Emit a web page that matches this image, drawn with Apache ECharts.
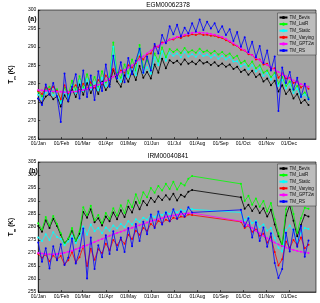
<!DOCTYPE html>
<html><head><meta charset="utf-8">
<script src="https://cdn.jsdelivr.net/npm/echarts@6/dist/echarts.min.js"></script>
<style>html,body{margin:0;padding:0;background:#fff}#c{width:320px;height:303px}</style>
</head><body><div id="c"></div>
<script>
const MONTH_TICKS = [0,31,59,90,120,151,181,212,243,273,304,334];
const MONTH_LABELS = ['01/Jan','01/Feb','01/Mar','01/Apr','01/May','01/Jun','01/Jul','01/Aug','01/Sep','01/Oct','01/Nov','01/Dec'];
const SERIES_NAMES = ['TM_Bevis','TM_LatR','TM_Static','TM_Varying','TM_GPT2w','TM_RS'];
const COLORS = ['#000000','#00ff00','#00ffff','#ff0000','#ff00ff','#0000ff'];
const TITLE_A = 'EGM00062378';
const TITLE_B = 'IRM00040841';
const Y_TICKS_A = [265,300,5];
const Y_TICKS_B = [255,305,5];

const DAYS_A = [0,5,10,15,20,25,30,35,40,45,50,55,60,65,70,75,80,85,90,95,100,105,110,115,120,125,130,135,140,145,150,155,160,165,170,175,180,185,190,195,200,205,210,215,220,225,230,235,240,245,250,255,260,265,270,275,280,285,290,295,300,305,310,315,320,325,330,335,340,345,350,355,360];
const A_BEVIS = [276.0,274.8,276.5,277.2,275.8,276.6,273.8,276.9,275.2,278.6,
 276.4,279.8,277.0,280.2,277.5,279.4,277.2,280.6,278.3,279.8,
 283.8,280.6,279.2,282.3,280.5,283.4,281.0,284.8,281.6,283.2,
 281.4,285.2,283.0,286.8,284.2,286.4,285.6,286.2,285.2,286.6,
 285.4,286.0,285.3,286.4,285.5,285.9,285.1,285.8,284.8,285.5,
 284.6,285.2,284.0,284.6,283.2,283.8,282.4,283.5,281.8,282.6,
 280.6,281.4,279.6,280.8,277.9,279.6,277.2,278.4,276.0,277.2,
 274.8,275.6,274.2];
const A_LATR = [277.8,276.6,278.4,279.2,277.6,278.5,275.4,278.9,277.0,280.8,
 278.3,282.0,279.0,282.6,279.6,281.8,279.2,283.4,280.4,281.8,
 291.2,283.0,281.6,285.2,282.8,286.6,283.6,290.5,284.4,286.4,
 284.2,288.2,286.0,289.8,287.2,289.4,288.6,289.3,288.3,289.7,
 288.5,289.1,288.4,289.5,288.6,289.0,288.2,288.9,287.9,288.6,
 287.6,288.2,287.0,287.6,285.6,286.2,284.8,286.0,284.2,285.0,
 283.0,283.6,281.8,283.0,280.0,281.8,279.4,280.6,278.2,279.4,
 276.8,277.6,276.2];
const A_STATIC = [277.0,275.8,277.5,278.2,276.8,277.6,274.8,277.9,276.2,279.6,
 277.4,280.8,278.0,281.2,278.5,280.4,278.2,281.6,279.3,281.1,
 290.0,281.9,280.5,283.6,281.8,284.7,282.3,289.5,282.9,284.5,
 282.7,287.2,285.0,288.8,286.2,288.4,287.6,288.2,287.2,288.6,
 287.4,288.0,287.3,288.4,287.5,287.9,287.1,287.8,286.8,287.5,
 286.6,287.2,286.0,286.1,284.7,285.3,283.9,285.0,283.3,284.1,
 282.1,282.9,281.1,282.3,279.4,281.1,278.7,279.9,277.5,278.7,
 276.3,277.1,275.7];
const A_VARYING = [278.0,277.2,279.0,278.4,279.2,278.0,275.8,279.6,277.4,278.8,
 279.6,278.2,280.0,278.6,280.4,279.0,281.0,279.8,282.2,281.0,
 284.0,282.2,283.6,283.0,285.0,284.4,285.6,287.4,286.6,288.0,
 288.2,290.2,290.0,291.2,291.2,292.0,292.0,292.6,292.4,293.0,
 293.0,293.4,293.2,293.6,293.2,293.3,293.0,293.0,292.6,292.4,
 291.8,291.4,290.6,290.2,289.2,289.0,288.0,287.8,286.6,286.6,
 285.2,285.4,284.0,284.2,281.6,282.8,281.4,281.6,280.2,280.6,
 279.0,279.6,278.6];
const A_GPT2W = [278.3,278.2,278.1,278.0,277.9,277.8,277.8,277.7,277.7,277.8,
 277.9,278.1,278.3,278.6,278.9,279.3,279.7,280.2,280.8,281.3,
 281.9,282.5,283.1,283.7,284.3,285.0,285.8,286.6,287.4,288.2,
 289.0,289.7,290.3,290.9,291.4,291.9,292.3,292.7,293.0,293.3,
 293.6,293.8,293.9,293.9,293.8,293.7,293.5,293.3,293.0,292.7,
 292.2,291.6,291.0,290.3,289.6,289.0,288.3,287.7,287.0,286.4,
 285.7,285.1,284.5,283.8,283.2,282.6,282.0,281.4,280.9,280.4,
 279.9,279.5,279.2];
const A_RS = [276.0,274.2,279.8,277.0,280.2,276.5,269.6,282.8,275.4,279.2,
 282.6,276.0,283.6,276.4,282.2,275.6,283.4,278.0,285.2,279.2,
 287.6,281.4,285.8,280.4,287.0,282.6,286.2,289.5,283.0,287.4,
 283.6,290.8,288.2,293.2,291.0,295.6,293.4,296.0,292.8,295.2,
 293.6,296.4,294.2,297.4,294.6,296.8,295.0,296.4,294.0,295.6,
 293.2,294.8,291.6,294.0,290.0,292.6,288.6,291.4,287.2,290.2,
 285.6,289.0,283.6,287.4,272.6,284.4,280.2,283.2,278.4,281.6,
 276.4,280.0,275.8];

const DAYS_B = [0,5,10,15,20,25,30,35,40,45,50,55,60,65,70,75,80,85,90,95,100,105,110,115,120,125,130,135,140,145,150,155,160,165,170,175,180,185,190,195,200,205,
 270,275,280,285,290,295,300,305,310,315,320,325,330,335,340,345,350,355,360];
const B_BEVIS = [280.4,278.2,282.6,279.6,283.2,280.4,277.0,273.8,275.4,278.6,
 274.6,277.4,285.8,283.6,286.8,281.8,283.4,280.6,284.0,282.2,
 285.6,283.0,286.4,283.8,287.8,285.6,289.6,286.8,290.0,288.4,
 291.2,289.6,291.8,290.4,292.2,290.6,292.8,290.2,292.4,291.6,
 293.6,294.2,
 291.4,287.0,288.6,286.2,288.0,285.4,287.2,284.0,286.6,281.0,276.4,272.8,284.4,288.4,282.4,276.4,280.8,284.6,284.0];
const B_LATR = [281.4,279.0,283.8,280.6,284.2,281.2,277.6,273.6,275.6,279.6,
 274.8,278.4,287.6,284.6,288.2,282.6,284.6,281.4,285.4,283.2,
 287.2,284.4,288.4,285.4,290.2,287.6,292.6,289.2,293.4,291.4,
 295.0,293.2,295.8,294.0,296.6,294.6,297.4,294.4,296.8,296.0,
 298.6,299.6,
 296.6,290.0,292.0,288.6,291.0,287.8,290.0,286.0,289.2,283.0,277.6,273.2,286.8,291.6,285.0,277.8,283.4,287.4,287.0];
const B_STATIC = [276.0,274.6,277.2,275.0,278.0,276.2,275.4,273.0,274.4,276.6,
 273.8,276.0,280.2,277.0,281.0,278.4,279.6,277.6,279.8,278.6,
 280.6,279.4,281.2,280.0,282.2,281.0,283.0,282.0,283.6,282.8,
 284.6,283.8,285.2,284.6,285.8,285.0,286.4,285.6,286.6,286.0,
 287.2,286.8,
 285.6,282.6,283.8,281.4,282.4,280.0,281.0,278.6,279.6,275.8,272.0,270.6,278.8,280.6,278.6,274.2,277.6,279.6,279.2];
const B_VARYING = [269.6,268.2,269.4,266.8,269.0,267.6,268.8,265.6,267.2,270.4,
 266.4,268.4,272.6,265.0,271.6,267.4,271.4,270.0,273.6,271.2,
 275.0,273.0,275.2,273.6,277.0,275.4,278.6,277.0,279.6,278.6,
 281.2,280.0,282.4,281.4,282.8,282.2,283.6,283.2,284.0,283.8,
 284.8,284.6,
 282.0,279.6,280.6,278.2,279.0,276.6,277.4,274.0,276.2,270.4,265.2,267.6,274.4,272.0,275.0,273.0,276.0,271.8,273.2];
const B_GPT2W = [270.0,269.8,269.6,269.5,269.5,269.6,269.8,270.1,270.5,270.9,
 271.4,271.9,272.4,273.0,273.6,274.2,274.8,275.4,276.0,276.6,
 277.2,277.7,278.2,278.7,279.2,279.7,280.2,280.7,281.2,281.7,
 282.2,282.6,283.0,283.4,283.8,284.1,284.4,284.7,284.9,285.1,
 285.3,285.4,
 282.2,281.6,280.6,279.6,278.6,277.6,276.6,275.7,274.8,274.0,273.3,272.7,272.1,271.6,271.2,270.8,270.5,270.2,270.0];
const B_RS = [274.0,266.6,271.8,264.0,272.6,267.2,273.4,265.4,268.2,275.6,
 266.0,270.8,279.4,260.2,276.0,263.8,273.0,268.4,276.8,269.6,
 278.4,271.2,276.0,270.4,279.6,272.6,281.2,274.6,282.0,277.2,
 284.8,279.6,286.0,281.0,285.6,282.2,286.8,283.2,286.0,284.0,
 287.6,285.6,
 286.6,280.2,283.4,276.0,281.8,274.6,279.8,272.4,277.6,266.2,260.4,263.8,277.8,270.6,279.0,272.4,280.4,268.6,274.8];

const PANEL_A = [A_BEVIS,A_LATR,A_STATIC,A_VARYING,A_GPT2W,A_RS];
const PANEL_B = [B_BEVIS,B_LATR,B_STATIC,B_VARYING,B_GPT2W,B_RS];

const FONT = '"Liberation Sans", Arial, sans-serif';
const chart = echarts.init(document.getElementById('c'), null, {renderer:'canvas'});

function xAxis(gi){
  return {type:'value', gridIndex:gi, min:0, max:370,
    splitLine:{show:false},
    axisLine:{show:true, lineStyle:{color:'#000', width:0.6}},
    axisTick:{show:true, inside:true, length:2, customValues:MONTH_TICKS, lineStyle:{color:'#000', width:0.6}},
    axisLabel:{show:true, customValues:MONTH_TICKS, fontSize:5, fontFamily:FONT, color:'#000', margin:2.5,
      formatter:v=>MONTH_LABELS[MONTH_TICKS.indexOf(v)]}};
}
function yAxis(gi, t){
  return {type:'value', gridIndex:gi, min:t[0], max:t[1], interval:t[2],
    splitLine:{show:false},
    axisLine:{show:true, lineStyle:{color:'#000', width:0.6}},
    axisTick:{show:true, inside:true, length:2, lineStyle:{color:'#000', width:0.6}},
    axisLabel:{fontSize:5, fontFamily:FONT, color:'#000', margin:2},
    name:'{b|T}{s|m}{b| (K)}', nameLocation:'middle', nameGap:13, nameRotate:90,
    nameTextStyle:{rich:{b:{fontSize:6.5, fontWeight:'bold', fontFamily:FONT, color:'#000'},
                         s:{fontSize:4, fontWeight:'bold', fontFamily:FONT, color:'#000', verticalAlign:'bottom', padding:[0,0,-2,0]}}}};
}
function legend(top){
  return {orient:'vertical', right:4, top:top, data:SERIES_NAMES,
    backgroundColor:'#bdbdbd', borderColor:'#333', borderWidth:0.5, padding:[2,2,2,1],
    itemWidth:8, itemHeight:4, itemGap:1.6,
    textStyle:{fontSize:4.6, fontFamily:FONT, color:'#111', padding:[0,0,0,-3]}};
}
const series = [];
[[PANEL_A, DAYS_A, 0],[PANEL_B, DAYS_B, 1]].forEach(([vals, days, gi])=>{
  vals.forEach((arr, k)=>{
    series.push({name:SERIES_NAMES[k], type:'line', xAxisIndex:gi, yAxisIndex:gi,
      data:days.map((d,i)=>[d, arr[i]]),
      symbol:'circle', symbolSize:2, showSymbol:true,
      lineStyle:{color:COLORS[k], width:0.8}, itemStyle:{color:COLORS[k]},
      z:2+k, animation:false});
  });
});

chart.setOption({
  animation:false,
  backgroundColor:'#fff',
  grid:[{left:24, right:4, top:10, height:129, show:true, backgroundColor:'#a3a3a3', borderColor:'#000', borderWidth:0.6},
        {left:24, right:4, top:162, height:130, show:true, backgroundColor:'#a3a3a3', borderColor:'#000', borderWidth:0.6}],
  xAxis:[xAxis(0), xAxis(1)],
  yAxis:[yAxis(0, Y_TICKS_A), yAxis(1, Y_TICKS_B)],
  legend:[legend(13), legend(164)],
  graphic:[
    {type:'text', x:168, y:2, style:{text:TITLE_A, fontSize:6.5, fontFamily:FONT, fill:'#000', align:'center', textAlign:'center'}},
    {type:'text', x:168, y:153, style:{text:TITLE_B, fontSize:6.5, fontFamily:FONT, fill:'#000', align:'center', textAlign:'center'}},
    {type:'text', x:28, y:16, style:{text:'(a)', fontSize:7, fontWeight:'bold', fontFamily:FONT, fill:'#000'}},
    {type:'text', x:29, y:168, style:{text:'(b)', fontSize:7, fontWeight:'bold', fontFamily:FONT, fill:'#000'}}
  ],
  series:series
});
</script></body></html>
